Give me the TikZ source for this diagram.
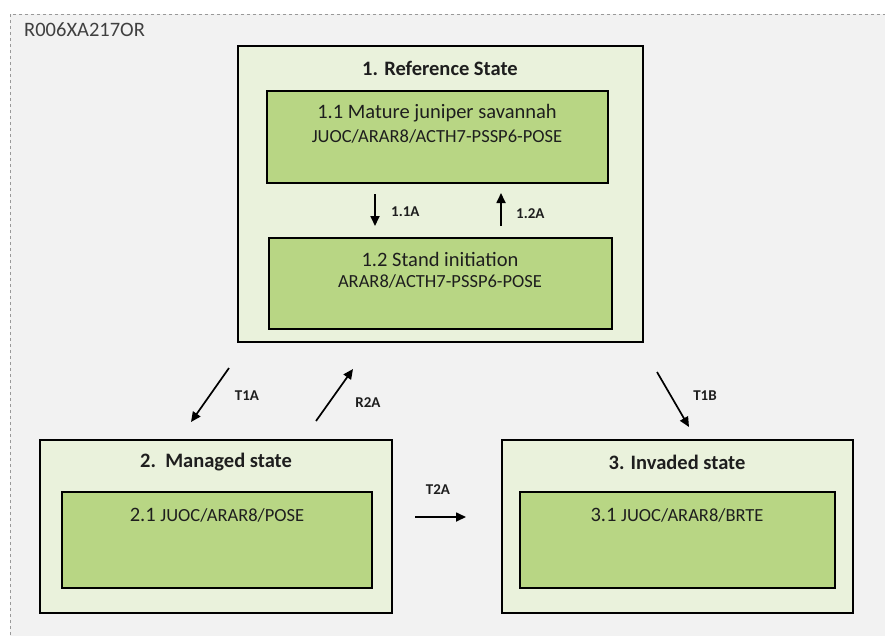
\documentclass[tikz,border=0pt]{standalone}
\usepackage{fontspec}
\setmainfont{Carlito}
\usepackage{xcolor}
\usetikzlibrary{arrows.meta}

\definecolor{framebg}{HTML}{F2F2F2}
\definecolor{stategreen}{HTML}{EAF2DC}
\definecolor{phasegreen}{HTML}{B8D684}
\definecolor{inkgray}{HTML}{1E1E1E}

\begin{document}
\begin{tikzpicture}[x=1pt, y=-1pt,
    statebox/.style={draw=black, line width=1.5pt, fill=stategreen, inner sep=0pt, outer sep=0pt},
    phasebox/.style={draw=black, line width=1.5pt, fill=phasegreen, inner sep=0pt, outer sep=0pt},
    title/.style={font=\fontsize{20.5}{24}\selectfont\bfseries, text=inkgray, inner sep=0pt},
    phasename/.style={font=\fontsize{20.5}{24}\selectfont, text=inkgray, inner sep=0pt},
    species/.style={font=\fontsize{18.5}{22}\selectfont, text=inkgray, inner sep=0pt},
    trlabel/.style={font=\fontsize{15}{18}\selectfont\bfseries, text=inkgray, inner sep=0pt},
    trans/.style={line width=1.7pt, -{Triangle[length=10pt, width=9pt]}}]
  \useasboundingbox (0,0) rectangle (885,635);
  \fill[white] (0,0) rectangle (885,635);
  \clip (0,0) rectangle (885,635);
  \draw[gray!80, line width=1pt, dashed, fill=framebg] (10,14) rectangle (900,660);
  \node[phasename, anchor=west, text=black!75] (siteid) at (24,30) {R006XA217OR};

  % reference state
  \node[statebox, minimum width=405pt, minimum height=296pt] (ref) at (440.5,194) {};
  \node[title] (reftitle) at (440,68) {1. Reference State};
  \node[phasebox, minimum width=341pt, minimum height=92pt] (p11) at (437.5,137) {};
  \node[phasename] (p11a) at (437,113) {1.1 Mature juniper savannah};
  \node[species] (p11b) at (437,136) {JUOC/ARAR8/ACTH7-PSSP6-POSE};
  \node[phasebox, minimum width=343pt, minimum height=91pt] (p12) at (440.5,283.5) {};
  \node[phasename] (p12a) at (440,259) {1.2 Stand initiation};
  \node[species] (p12b) at (440,281) {ARAR8/ACTH7-PSSP6-POSE};

  \coordinate (c11s) at (375,194);
  \coordinate (c11e) at (375,226);
  \coordinate (c12s) at (501,226);
  \coordinate (c12e) at (501,193);
  \draw[trans] (c11s) -- (c11e);
  \draw[trans] (c12s) -- (c12e);
  \node[trlabel, anchor=west] (l11) at (391,212) {1.1A};
  \node[trlabel, anchor=west] (l12) at (516,214) {1.2A};

  % managed state
  \node[statebox, minimum width=352pt, minimum height=173pt] (man) at (216,526.5) {};
  \node[title] (mantitle) at (216,462) {2.\ \ Managed state};
  \node[phasebox, minimum width=310pt, minimum height=96pt] (p21) at (217,540) {};
  \node[phasename] (p21a) at (217,515) {2.1 {\fontsize{18.5}{22}\selectfont JUOC/ARAR8/POSE}};

  % invaded state
  \node[statebox, minimum width=351pt, minimum height=173pt] (inv) at (677.5,526.5) {};
  \node[title] (invtitle) at (677,462) {3. Invaded state};
  \node[phasebox, minimum width=315pt, minimum height=96pt] (p31) at (677.5,540) {};
  \node[phasename] (p31a) at (677,515) {3.1 {\fontsize{18.5}{22}\selectfont JUOC/ARAR8/BRTE}};

  % transitions
  \coordinate (t1as) at (229,368);
  \coordinate (t1ae) at (191,422);
  \coordinate (r2as) at (316,421);
  \coordinate (r2ae) at (353,369);
  \coordinate (t1bs) at (657,372);
  \coordinate (t1be) at (689,427);
  \coordinate (t2as) at (415,517);
  \coordinate (t2ae) at (466,517);
  \draw[trans] (t1as) -- (t1ae);
  \draw[trans] (r2as) -- (r2ae);
  \draw[trans] (t1bs) -- (t1be);
  \draw[trans] (t2as) -- (t2ae);
  \node[trlabel] (lt1a) at (247,396) {T1A};
  \node[trlabel] (lr2a) at (368,403) {R2A};
  \node[trlabel] (lt1b) at (705,396) {T1B};
  \node[trlabel] (lt2a) at (438,490) {T2A};
\end{tikzpicture}
\end{document}
